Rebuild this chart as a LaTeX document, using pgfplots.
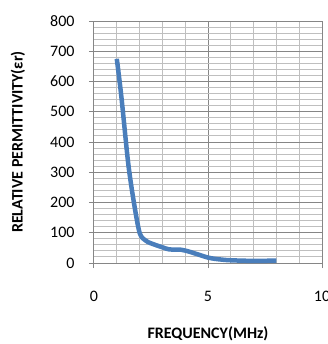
\documentclass[border=0pt]{standalone}
\usepackage{fontspec}
\setmainfont{Carlito}
\usepackage{pgfplots}
\pgfplotsset{compat=1.18}
\definecolor{lineblue}{RGB}{74,126,187}
\definecolor{majgrid}{RGB}{134,134,134}
\definecolor{mingrid}{RGB}{191,191,191}
\begin{document}
\begin{tikzpicture}
\useasboundingbox (-94bp,-81bp) rectangle (234bp,263bp);
\begin{axis}[
  at={(0,0)}, anchor=south west,
  scale only axis, width=228bp, height=242bp,
  xmin=0, xmax=10, ymin=0, ymax=800,
  xtick={0,5,10}, ytick={0,100,...,800},
  minor x tick num=4, minor y tick num=4,
  axis lines=left, axis line style={majgrid, line width=1bp, -},
  grid=both,
  major grid style={majgrid, line width=1bp},
  minor grid style={mingrid, line width=1bp},
  tick align=outside, major tick length=5bp, minor tick length=0pt,
  tick style={majgrid, line width=1bp},
  /pgf/number format/assume math mode=true,
  ticklabel style={font=\fontsize{16bp}{18bp}\selectfont},
  xticklabel style={yshift=-20bp},
  yticklabel style={xshift=-11bp},
  xlabel={\textbf{FREQUENCY(MHz)}},
  ylabel={\textbf{RELATIVE PERMITTIVITY(εr)}},
  label style={font=\fontsize{16bp}{18bp}\selectfont},
  xlabel style={at={(axis description cs:0.5,-0.2934)}, anchor=center},
  ylabel style={at={(axis description cs:-0.3333,0.5)}, anchor=center, rotate=0},
  clip=false,
]
\addplot[lineblue, line width=4.5bp, smooth, tension=0.5] coordinates {
(1,675) (1.2,550) (1.5,330) (1.75,200) (2,100) (2.25,75) (2.5,65) (3,52) (3.3,45) (3.8,44) (4.2,37) (5,18) (5.5,12) (6,9) (7,7) (8,8)
};
\end{axis}
\end{tikzpicture}
\end{document}
